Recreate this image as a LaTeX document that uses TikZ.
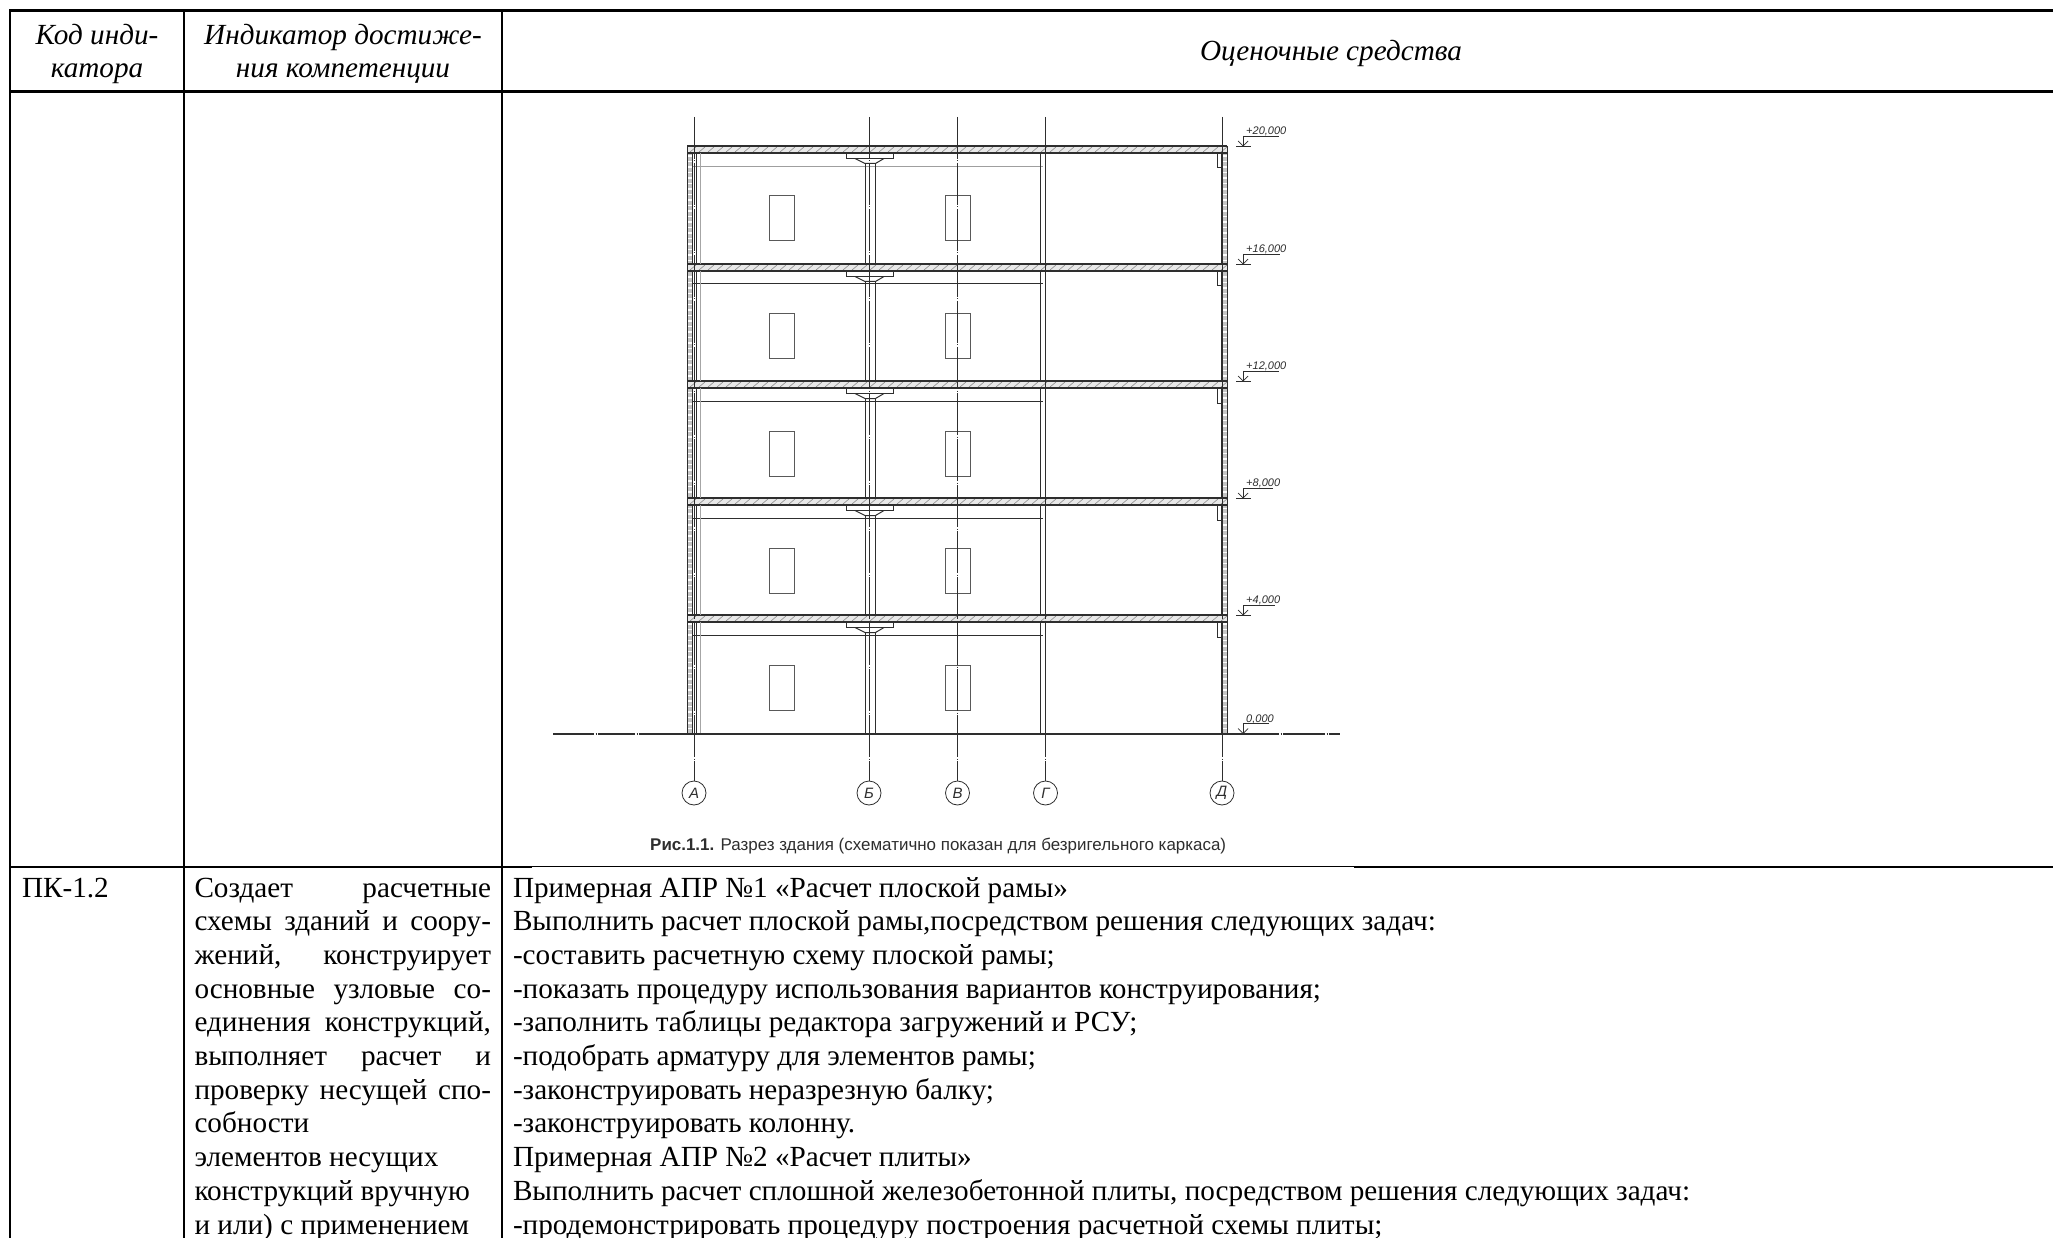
\documentclass[tikz,border=0pt]{standalone}
\usepackage{fontspec}
\setmainfont{Liberation Serif}
\newfontfamily\capfont{Liberation Sans}
\usetikzlibrary{calc}
\definecolor{hatchgray}{gray}{0.55}
\definecolor{inkdark}{gray}{0.18}
\tikzset{
  x=1pt,y=-1pt,
  rule/.style={line width=2.1pt,black},
  thinrule/.style={line width=0.9pt,black},
  txt/.style={anchor=base west,inner sep=0pt,outer sep=0pt,font=\fontsize{29.2}{33}\selectfont},
  head/.style={anchor=base,inner sep=0pt,outer sep=0pt,font=\fontsize{29.2}{33}\selectfont\itshape},
  cad/.style={line width=1pt,inkdark},
  cadthin/.style={line width=0.7pt,inkdark},
  hatchline/.style={line width=0.6pt,hatchgray},
  wallfill/.style={line width=4pt,gray!45,dash pattern=on 4pt off 1.5pt},
  axisline/.style={line width=0.8pt,inkdark,dash pattern=on 42pt off 1.5pt on 1pt off 1.5pt},
  bubble/.style={circle,draw=inkdark,line width=0.8pt,minimum size=24pt,inner sep=0pt,font=\capfont\itshape\fontsize{15}{15}\selectfont,text=inkdark},
  lvl/.style={anchor=base west,inner sep=0pt,font=\capfont\itshape\fontsize{11}{11}\selectfont,text=inkdark},
}
\begin{document}
\begin{tikzpicture}
\useasboundingbox (0,0) rectangle (2053,1238);
\fill[white] (0,0) rectangle (2053,1238);

%% ---------- drawing ----------
% wall hatching strips
\foreach \xx in {689.5,1224.5}{
  \draw[wallfill] (\xx,146) -- (\xx,734);
}
% slabs
\foreach \T in {146,264,381,498,615}{
  \fill[gray!18] (687,\T) rectangle (1227,\T+7);
  \foreach \h in {0,1,...,59}{
    \draw[hatchline] ({690+\h*9},\T+6) -- ({696+\h*9},\T+1);
  }
  \draw[cad,line width=1.2pt] (687,\T) -- (1227,\T) (687,\T+7) -- (1227,\T+7);
  \draw[cad] (687,\T) -- (687,\T+7) (1227,\T) -- (1227,\T+7);
  % flange and capital
  \draw[cad] (846,\T+7) -- (846,\T+12.5) -- (893,\T+12.5) -- (893,\T+7);
  \draw[cad] (855,\T+12.5) .. controls (860,\T+15) .. (865,\T+17.5) -- (875.5,\T+17.5) .. controls (880,\T+15) .. (884,\T+12.5);
  % corbel at wall D
  \draw[cad] (1222,\T+7) -- (1217,\T+7) -- (1217,\T+22) -- (1222,\T+22);
}
% beams
\draw[line width=1.6pt,gray!75] (692,166.5) -- (1043,166.5);
\foreach \T in {264,381,498,615}{
  \draw[line width=1pt,inkdark] (692,\T+20) -- (1043,\T+20);
}
% vertical members per storey
\foreach \T/\B in {153/264,271/381,388/498,505/615,622/734}{
  \draw[cad] (687,\T) -- (687,\B);
  \draw[cad] (692,\T) -- (692,\B);
  \draw[cadthin] (696,\T) -- (696,\B);
  \draw[line width=0.9pt,gray!70] (700.7,\T) -- (700.7,\B);
  \draw[cad] (1040,\T) -- (1040,\B);
  \draw[cad,line width=1.2pt] (1045.5,\T) -- (1045.5,\B);
  \draw[cad,line width=1.2pt] (1222,\T) -- (1222,\B);
  \draw[cad] (1227,\T) -- (1227,\B);
}
\foreach \T/\B in {163.5/264,281.5/381,398.5/498,515.5/615,632.5/734}{
  \draw[cad] (865,\T) -- (865,\B);
  \draw[cad] (875.5,\T) -- (875.5,\B);
}
% openings
\foreach \T in {146,264,381,498,615}{
  \draw[cad,gray!70!black] (769,\T+50) rectangle (794,\T+95);
  \draw[cad,gray!70!black] (945,\T+50) rectangle (970,\T+95);
}
% ground line
\coordinate (gl) at (553,734);
\coordinate (gr) at (1340,734);
\draw[line width=1.1pt,inkdark,dash pattern=on 41pt off 1.5pt on 1pt off 1.5pt on 37pt off 1.5pt on 1pt off 1.5pt on 640pt off 1.5pt on 1pt off 1.5pt on 42pt off 1.5pt on 1pt off 1.5pt on 20pt off 0pt] (gl) -- (gr);
% axes with bubbles
\node[bubble] (axA) at (694,793) {А};
\node[bubble] (axB) at (869,793) {Б};
\node[bubble] (axV) at (957.5,793) {В};
\node[bubble] (axG) at (1045.5,793) {Г};
\node[bubble] (axD) at (1222,793) {Д};
\coordinate (tA) at (694,117);
\coordinate (tB) at (869,117);
\coordinate (tV) at (957.5,117);
\coordinate (tG) at (1045.5,117);
\coordinate (tD) at (1222,117);
\foreach \a/\b in {tA/axA,tB/axB,tV/axV,tG/axG,tD/axD}{
  \draw[axisline] (\a) -- (\b);
}
% level marks
\foreach \T/\L/\w/\n in {146/{+20{,}000}/34/la,264/{+16{,}000}/35/lb,381/{+12{,}000}/34/lc,498/{+8{,}000}/28/ld,615/{+4{,}000}/30/le,733.5/{0{,}000}/24/lf}{
  \draw[cadthin] (1243,\T-10) -- ({1245+\w},\T-10);
  \draw[cadthin] (1243,\T-10) -- (1243,\T);
  \draw[cadthin] (1236,\T) -- (1251,\T);
  \draw[cadthin] (1238,\T-5) -- (1243,\T) -- (1248,\T-5);
  \node[lvl] (\n) at (1246,\T-11.5) {\L};
}
% caption
\node[anchor=base west,inner sep=0pt,text=inkdark,font=\capfont\fontsize{16.95}{18}\selectfont] (cap) at (650,850) {\textbf{Рис.1.1.} Разрез здания (схематично показан для безригельного каркаса)};

%% ---------- table ----------
\draw[rule] (9,10.5) -- (2053,10.5);
\draw[rule] (9,91.5) -- (2053,91.5);
\draw[rule] (10,10) -- (10,1238);
\draw[rule] (184,10) -- (184,1238);
\draw[rule] (502,10) -- (502,1238);
\draw[rule] (10,866.7) -- (532,866.7);
\draw[thinrule] (532,866.7) -- (1354,866.7);
\draw[rule] (1354,866.7) -- (2053,866.7);

\node[head] (h1a) at (97,45) {Код инди-};
\node[head] (h1b) at (97,78) {катора};
\node[head] (h2a) at (343,45) {Индикатор достиже-};
\node[head] (h2b) at (343,78) {ния компетенции};
\node[head] (h3) at (1331,61) {Оценочные средства};

\node[txt] (a1) at (22,897) {ПК-1.2};

\foreach \i/\t in {0/{Создает расчетные},1/{схемы зданий и соору-},2/{жений, конструирует},3/{основные узловые со-},4/{единения конструкций,},5/{выполняет расчет и},6/{проверку несущей спо-}}{
  \node[txt] (b\i) at (194.5,{897+\i*33.7}) {\makebox[296.5pt][s]{\t}};
}
\foreach \i/\t in {7/собности,8/элементов несущих,9/конструкций вручную,10/и или) с применением}{
  \node[txt] (b\i) at (194.5,{897+\i*33.7}) {\t};
}
\foreach \i/\t in {0/Примерная АПР №1 «Расчет плоской рамы»,
  1/{Выполнить расчет плоской рамы,посредством решения следующих задач:},
  2/-составить расчетную схему плоской рамы;,
  3/-показать процедуру использования вариантов конструирования;,
  4/-заполнить таблицы редактора загружений и РСУ;,
  5/-подобрать арматуру для элементов рамы;,
  6/-законструировать неразрезную балку;,
  7/-законструировать колонну.,
  8/Примерная АПР №2 «Расчет плиты»,
  9/{Выполнить расчет сплошной железобетонной плиты, посредством решения следующих задач:},
  10/-продемонстрировать процедуру построения расчетной схемы плиты;}{
  \node[txt] (c\i) at (513,{897+\i*33.7}) {\t};
}
\end{tikzpicture}
\end{document}
